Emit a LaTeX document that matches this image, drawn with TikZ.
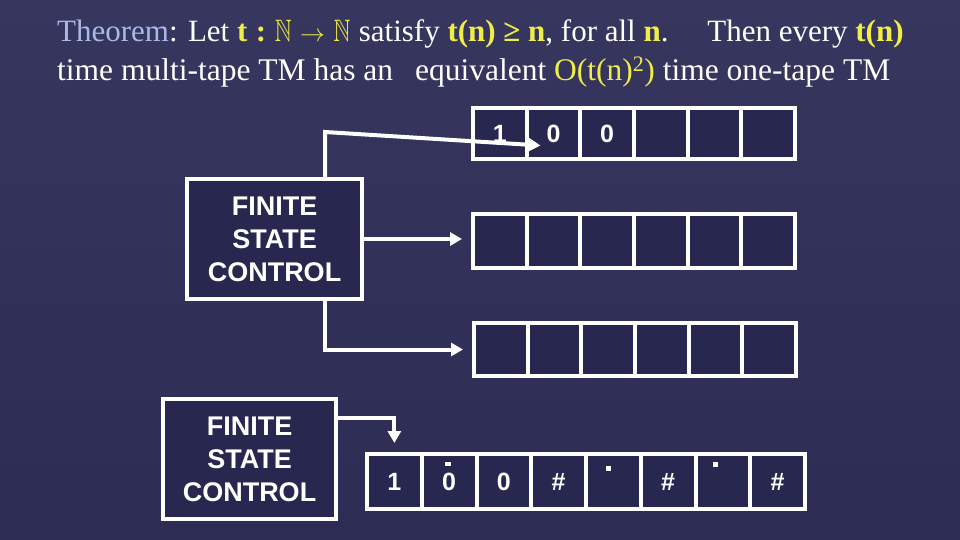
\documentclass[tikz,border=0pt]{standalone}
\usepackage{fontspec}
\usepackage{amssymb}
\usepackage{graphicx}
\setmainfont{Liberation Serif}
\setsansfont{Liberation Sans}
\usetikzlibrary{arrows.meta,calc}
\definecolor{bgtop}{RGB}{54,54,94}
\definecolor{bgbot}{RGB}{44,44,84}
\definecolor{cellbg}{RGB}{40,39,80}
\definecolor{ylw}{RGB}{240,238,70}
\definecolor{thm}{RGB}{170,186,232}
\newcommand{\nnat}{\scalebox{0.75}[1]{$\mathbb{N}$}}
\newcommand{\tsp}{\hspace{0.275em}}
\begin{document}
\begin{tikzpicture}[x=1pt,y=-1pt,
  line/.style={white,line width=4pt,line join=miter},
  arr/.style={line,-{Triangle[length=12pt,width=13pt]}},
  cell/.style={draw=white,line width=4pt,fill=cellbg,inner sep=0pt,text=white,
    font=\sffamily\bfseries\fontsize{25}{25}\selectfont},
  fsc/.style={draw=white,line width=4pt,fill=cellbg,inner sep=0pt,text=white,align=center,
    font=\sffamily\bfseries\fontsize{27}{33}\selectfont},
  ttl/.style={anchor=base west,inner sep=0pt,text=white,font=\fontsize{31.5}{38}\selectfont},
  headdot/.style={fill=white}]
\shade[top color=bgtop,bottom color=bgbot] (0,0) rectangle (960,540);
\useasboundingbox (0,0) rectangle (960,540);
% title
\node[ttl,font=\fontsize{31}{38}\selectfont] (title1) at (57,42) {\textcolor{thm}{Theorem}: Let \textcolor{ylw}{\textbf{t\tsp:\tsp\nnat\tsp$\rightarrow$\tsp\nnat}}\tsp satisfy \textcolor{ylw}{\textbf{t(n) ≥ n}}, for all \textcolor{ylw}{\textbf{n}}.\hspace{1.25em}Then every \textcolor{ylw}{\textbf{t(n)}}};
\node[ttl] (title2) at (57,80.5) {time multi-tape TM has an\hspace{0.7em}equivalent \textcolor{ylw}{O(t(n)\textsuperscript{2})} time one-tape TM};
% multi-tape machine
\node[fsc,minimum width=175,minimum height=120] (fsc1) at (274.5,239) {FINITE\\STATE\\CONTROL};
\foreach \i/\s in {1/1,2/0,3/0,4/,5/,6/} {
  \node[cell,minimum width=53.67,minimum height=51] (t1c\i) at ({473+26.83+53.67*(\i-1)},133.5) {\s};
  \node[cell,minimum width=53.67,minimum height=54] (t2c\i) at ({473+26.83+53.67*(\i-1)},241) {};
  \node[cell,minimum width=53.67,minimum height=53] (t3c\i) at ({474+26.83+53.67*(\i-1)},349.5) {};
}
\coordinate (k1) at (325,132);
\coordinate (tip1) at ($(t1c2.center)+(-13,12)$);
\draw[arr] (fsc1.north -| k1) -- (k1) -- (tip1);
\draw[arr] (fsc1.east) -- ([xshift=-9pt]t2c1.west |- fsc1.east);
\draw[arr] (fsc1.south -| k1) |- ([xshift=-9pt]t3c1.west);
% one-tape machine
\node[fsc,minimum width=173,minimum height=120] (fsc2) at (249.5,459) {FINITE\\STATE\\CONTROL};
\foreach \i/\s in {1/1,2/0,3/0,4/\#,5/,6/\#,7/,8/\#} {
  \node[cell,minimum width=54.75,minimum height=55] (b\i) at ({367+27.375+54.75*(\i-1)},481.5) {\s};
}
\coordinate (k2) at (0,418);
\draw[arr] (fsc2.east |- k2) -| ([yshift=9pt]b1.north);
\fill[headdot] (445,461.5) rectangle (451,466);
\fill[headdot] (605.5,466) rectangle (610.5,471);
\fill[headdot] (712.5,462) rectangle (717.5,467);
\end{tikzpicture}
\end{document}
